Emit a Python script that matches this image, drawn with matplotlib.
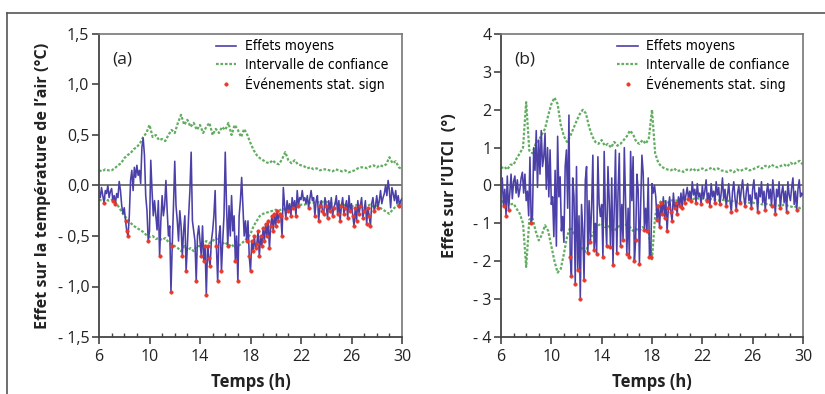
import numpy as np
import matplotlib
matplotlib.use('Agg')
import matplotlib.pyplot as plt
from matplotlib.lines import Line2D
from matplotlib.ticker import MultipleLocator, FixedLocator
from matplotlib.font_manager import FontProperties

# ---------------- data ----------------
# time grids (h)
hours_mean = np.round(np.arange(6.0, 30.001, 0.1), 2)   # 241 points
hours_ci = np.round(np.arange(6.0, 30.001, 0.25), 2)    # 97 points

# Panel (a): effect on air temperature (°C)
mean_a = [
    -0.05, -0.12, -0.02, -0.10, -0.17, -0.05, -0.08, 0.00, -0.12, -0.06,
    -0.03, -0.15, -0.10, -0.18, -0.08, -0.12, 0.04, -0.05, -0.20, -0.28,
    -0.22, -0.35, -0.45, -0.50, -0.30, 0.05, 0.15, -0.05, 0.18, 0.08,
    0.20, 0.10, 0.15, 0.02, 0.38, 0.47, 0.30, -0.10, -0.25, -0.55,
    -0.45, 0.25, -0.05, -0.30, -0.15, -0.30, -0.44, -0.15, -0.70, -0.35,
    -0.10, -0.30, -0.20, 0.05, -0.25, -0.50, -0.40, -1.05, -0.60, -0.20,
    0.24, -0.20, -0.35, -0.55, -0.25, -0.40, -0.70, -0.45, -0.30, -0.85,
    -0.60, -0.30, -0.05, 0.33, -0.35, -0.45, -0.55, -0.95, -0.50, -0.40,
    -0.55, -0.70, -0.40, -0.75, -0.60, -1.08, -0.60, -0.72, -0.80, -0.55,
    -0.45, -0.30, -0.05, -0.60, -0.95, -0.50, -0.40, -0.85, -0.55, -0.30,
    0.33, -0.20, -0.60, -0.20, -0.50, -0.10, -0.45, -0.30, -0.75, -0.50,
    -0.95, -0.30, -0.15, 0.08, -0.20, -0.50, -0.35, -0.55, -0.35, -0.70,
    -0.85, -0.55, -0.65, -0.50, -0.62, -0.58, -0.45, -0.70, -0.50, -0.60,
    -0.42, -0.55, -0.38, -0.50, -0.35, -0.62, -0.40, -0.30, -0.45, -0.28,
    -0.40, -0.25, -0.35, -0.28, -0.30, -0.50, -0.02, -0.20, -0.32, -0.15,
    -0.25, -0.18, -0.30, -0.12, -0.22, -0.15, -0.30, -0.05, -0.20, -0.12,
    -0.14, -0.05, -0.15, -0.12, -0.18, -0.10, -0.22, -0.13, -0.05, -0.15,
    -0.12, -0.30, -0.15, -0.10, -0.35, -0.20, -0.15, -0.25, -0.28, -0.12,
    -0.20, -0.32, -0.15, -0.25, -0.12, -0.30, -0.22, -0.18, -0.10, -0.28,
    -0.15, -0.35, -0.20, -0.12, -0.28, -0.22, -0.15, -0.32, -0.10, -0.25,
    -0.18, -0.30, -0.40, -0.22, -0.35, -0.15, -0.28, -0.20, -0.12, -0.32,
    -0.25, -0.15, -0.38, -0.22, -0.30, -0.40, -0.18, -0.12, -0.25, -0.20,
    -0.10, -0.22, -0.15, -0.05, -0.18, -0.12, -0.08, 0.00, -0.10, 0.05,
    -0.05, -0.22, -0.02, -0.08, -0.15, -0.05, -0.18, -0.10, -0.20, -0.15,
    -0.13,
]
upper_a = [
    0.15, 0.14, 0.16, 0.15,
    0.15, 0.17, 0.20, 0.22,
    0.27, 0.30, 0.32, 0.36,
    0.38, 0.42, 0.48, 0.52,
    0.60, 0.48, 0.50, 0.45,
    0.46, 0.44, 0.50, 0.55,
    0.52, 0.62, 0.70, 0.60,
    0.65, 0.58, 0.62, 0.55,
    0.60, 0.52, 0.58, 0.62,
    0.50, 0.56, 0.52, 0.58,
    0.55, 0.62, 0.50, 0.60,
    0.55, 0.48, 0.56, 0.50,
    0.42, 0.35, 0.30, 0.27,
    0.25, 0.23, 0.22, 0.25,
    0.22, 0.21, 0.26, 0.33,
    0.25, 0.22, 0.25, 0.21,
    0.20, 0.19, 0.17, 0.18,
    0.16, 0.17, 0.15, 0.16,
    0.16, 0.15, 0.14, 0.16,
    0.15, 0.14, 0.15, 0.13,
    0.14, 0.15, 0.17, 0.18,
    0.18, 0.17, 0.19, 0.20,
    0.18, 0.20, 0.19, 0.21,
    0.28, 0.22, 0.24, 0.18,
    0.16,
]
lower_a = [
    -0.14, -0.15, -0.13, -0.15,
    -0.14, -0.16, -0.20, -0.25,
    -0.30, -0.33, -0.37, -0.40,
    -0.42, -0.44, -0.46, -0.49,
    -0.51, -0.50, -0.53, -0.52,
    -0.54, -0.52, -0.56, -0.58,
    -0.60, -0.62, -0.65, -0.60,
    -0.64, -0.62, -0.65, -0.60,
    -0.60, -0.58, -0.55, -0.57,
    -0.55, -0.52, -0.55, -0.58,
    -0.56, -0.60, -0.58, -0.62,
    -0.60, -0.58, -0.55, -0.52,
    -0.48, -0.40, -0.35, -0.30,
    -0.28, -0.27, -0.26, -0.25,
    -0.24, -0.25, -0.23, -0.24,
    -0.23, -0.22, -0.21, -0.20,
    -0.19, -0.19, -0.18, -0.17,
    -0.17, -0.16, -0.17, -0.16,
    -0.16, -0.17, -0.18, -0.18,
    -0.19, -0.20, -0.19, -0.20,
    -0.21, -0.20, -0.19, -0.20,
    -0.21, -0.20, -0.19, -0.21,
    -0.20, -0.22, -0.24, -0.26,
    -0.28, -0.24, -0.21, -0.19,
    -0.18,
]

# Panel (b): effect on UTCI (°)
mean_b = [
    -0.30, 0.20, -0.55, -0.10, -0.80, 0.25, -0.65, -0.20, 0.30, -0.35,
    0.10, 0.25, -0.20, 0.15, -0.30, -0.10, 0.20, 0.35, -0.20, 0.30,
    -0.40, -0.15, -0.80, 0.75, -1.00, -0.80, 1.00, 0.40, 1.45, -0.05,
    1.20, 0.30, 1.45, 0.50, 0.76, 1.38, -0.10, 1.00, -0.30, 0.94,
    -0.50, -0.30, -1.35, 0.40, -1.60, 1.30, -0.30, 0.23, -1.20, -0.82,
    -1.50, 0.50, 0.94, -0.60, 1.86, -1.90, -2.40, 0.20, -0.30, -2.60,
    0.50, -2.23, -0.80, -3.00, -0.50, -1.18, -2.50, 0.14, 0.50, -1.79,
    -0.40, -1.50, -0.56, 0.80, -1.70, -1.00, -1.80, 0.76, -0.50, -0.82,
    -0.50, -1.88, 0.90, -0.82, -1.60, 0.50, -0.40, -1.62, 0.20, -2.10,
    -0.60, 0.94, -1.79, -0.20, 0.85, -1.60, -0.50, -1.44, 1.00, -0.38,
    -1.80, -0.60, -1.88, 0.90, -0.40, 0.76, -2.00, -1.44, 0.30, -0.12,
    -2.06, -0.50, 0.80, 0.32, -1.18, -0.60, -1.20, 0.20, -1.88, -1.90,
    0.05, -0.20, 0.00, -0.30, -0.90, -0.55, -1.10, -0.47, -0.75, -0.30,
    -0.85, -0.40, -1.20, -0.60, -0.30, -0.70, -0.95, -0.20, -0.60, -0.45,
    -0.75, -0.30, -0.55, -0.20, -0.60, -0.10, -0.45, -0.25, -0.05, -0.35,
    -0.15, -0.40, 0.10, -0.25, -0.10, -0.45, 0.05, -0.30, -0.20, -0.50,
    0.00, -0.35, -0.15, 0.15, -0.40, -0.20, -0.55, 0.05, -0.30, -0.15,
    -0.45, 0.10, -0.25, -0.05, -0.50, -0.20, 0.20, -0.35, -0.10, -0.55,
    -0.25, 0.05, -0.40, -0.70, -0.15, 0.10, -0.35, -0.65, -0.20, 0.00,
    -0.45, -0.10, 0.15, -0.30, -0.55, -0.15, 0.05, -0.40, -0.25, -0.60,
    -0.10, 0.15, -0.35, -0.20, -0.70, -0.05, -0.30, 0.10, -0.45, -0.15,
    -0.65, -0.20, 0.05, -0.35, -0.10, -0.55, 0.15, -0.25, -0.75, -0.10,
    -0.30, 0.10, -0.60, -0.20, 0.00, -0.45, -0.15, -0.70, 0.10, -0.25,
    -0.40, -0.05, 0.20, -0.50, -0.15, -0.65, -0.10, 0.15, -0.30, -0.20,
    -0.25,
]
upper_b = [
    0.45, 0.50, 0.42, 0.55,
    0.55, 0.72, 0.85, 1.00,
    2.20, 0.92, 0.85, 1.10,
    1.20, 1.35, 1.50, 1.85,
    2.15, 2.32, 2.15, 1.60,
    1.30, 1.15, 1.30, 1.50,
    1.70, 1.88, 2.00, 1.90,
    1.55, 1.30, 1.15, 1.10,
    1.20, 1.05, 1.10, 1.00,
    1.15, 1.05, 1.10, 1.20,
    1.30, 1.45, 1.35, 1.15,
    1.10, 1.20, 1.10, 1.25,
    2.00, 0.85, 0.60, 0.50,
    0.45, 0.42, 0.40, 0.45,
    0.38, 0.40, 0.36, 0.42,
    0.40, 0.45, 0.38, 0.42,
    0.45, 0.40, 0.43, 0.47,
    0.42, 0.45, 0.40, 0.38,
    0.36, 0.40, 0.35, 0.42,
    0.38, 0.42, 0.45, 0.40,
    0.42, 0.47, 0.50, 0.45,
    0.52, 0.48, 0.55, 0.50,
    0.48, 0.52, 0.55, 0.50,
    0.60, 0.55, 0.62, 0.65,
    0.55,
]
lower_b = [
    -0.40, -0.45, -0.38, -0.50,
    -0.48, -0.62, -0.75, -1.00,
    -2.15, -0.90, -0.85, -1.20,
    -1.45, -1.30, -1.05, -1.20,
    -1.60, -2.00, -2.30, -2.20,
    -1.80, -1.35, -1.10, -1.25,
    -1.40, -1.55, -1.70, -1.75,
    -1.50, -1.30, -1.15, -1.05,
    -1.00, -1.10, -1.05, -1.15,
    -1.20, -1.10, -1.05, -1.00,
    -1.05, -1.10, -1.20, -1.15,
    -1.20, -1.10, -1.15, -1.25,
    -1.95, -0.80, -0.50, -0.40,
    -0.42, -0.45, -0.40, -0.38,
    -0.40, -0.36, -0.38, -0.35,
    -0.34, -0.36, -0.33, -0.35,
    -0.34, -0.38, -0.35, -0.36,
    -0.38, -0.40, -0.37, -0.39,
    -0.40, -0.42, -0.40, -0.43,
    -0.42, -0.45, -0.43, -0.46,
    -0.45, -0.48, -0.46, -0.50,
    -0.48, -0.50, -0.52, -0.50,
    -0.52, -0.55, -0.50, -0.53,
    -0.55, -0.58, -0.55, -0.60,
    -0.56,
]

x_ticks = [6, 10, 14, 18, 22, 26, 30]
y_ticks_a = [-1.5, -1.0, -0.5, 0.0, 0.5, 1.0, 1.5]
y_ticklabels_a = ["- 1,5", "- 1,0", "- 0,5", "0,0", "0,5", "1,0", "1,5"]
y_ticks_b = [-4, -3, -2, -1, 0, 1, 2, 3, 4]
y_ticklabels_b = ["- 4", "- 3", "- 2", "- 1", "0", "1", "2", "3", "4"]

legend_a = ["Effets moyens", "Intervalle de confiance", "Événements stat. sign"]
legend_b = ["Effets moyens", "Intervalle de confiance", "Événements stat. sing"]

# ---------------- style ----------------
BLUE = "#4b40a8"
GREEN = "#62ad62"
RED = "#e8392b"
TICK_FONT = ["Open Sans", "DejaVu Sans"]
LABEL_FONT = ["Open Sans", "DejaVu Sans"]

W, H = 825, 394
fig = plt.figure(figsize=(W / 100, H / 100), dpi=100)
fig.patch.set_facecolor("white")

# outer frame lines (top and left)
fig.add_artist(Line2D([7 / W, 1.0], [1 - 13 / H, 1 - 13 / H], transform=fig.transFigure,
                      color="#555555", lw=1.2))
fig.add_artist(Line2D([7 / W, 7 / W], [0.0, 1 - 13 / H], transform=fig.transFigure,
                      color="#555555", lw=1.2))

leg_prop = FontProperties(family="DejaVu Sans", stretch="condensed", size=10)


def draw_panel(ax, mean, upper, lower, yticks, yticklabels, ylim, ylabel, tag, leg_labels,
               ylabel_x):
    mean = np.asarray(mean)
    upper = np.asarray(upper)
    lower = np.asarray(lower)
    low_i = np.interp(hours_mean, hours_ci, lower)
    sig = mean < low_i

    ax.axhline(0, color="#6b6b6b", lw=1.3, zorder=1)
    ax.plot(hours_ci, upper, color=GREEN, lw=1.6, ls=(0, (1.2, 0.8)), zorder=2)
    ax.plot(hours_ci, lower, color=GREEN, lw=1.6, ls=(0, (1.2, 0.8)), zorder=2)
    ax.plot(hours_mean, mean, color=BLUE, lw=1.15, zorder=3)
    ax.plot(hours_mean[sig], mean[sig], ls="none", marker="o", ms=2.5, mew=0.4,
            mfc=RED, mec=RED, zorder=4)

    ax.set_xlim(6, 30)
    ax.set_ylim(*ylim)
    ax.xaxis.set_major_locator(FixedLocator(x_ticks))
    ax.xaxis.set_minor_locator(MultipleLocator(1))
    ax.set_yticks(yticks)
    ax.set_yticklabels(yticklabels)
    ax.tick_params(axis="x", which="major", direction="out", length=5, width=1.2,
                   color="#444444", pad=3.5)
    ax.tick_params(axis="x", which="minor", direction="in", length=3, width=1.0,
                   color="#444444")
    ax.tick_params(axis="y", which="major", direction="out", length=5, width=1.2,
                   color="#444444", pad=2)
    for lab in ax.get_xticklabels() + ax.get_yticklabels():
        lab.set_fontfamily(TICK_FONT)
        lab.set_fontsize(11.5)
        lab.set_color("#222222")
    for side in ("left", "bottom"):
        ax.spines[side].set_color("#444444")
        ax.spines[side].set_linewidth(1.3)
    for side in ("top", "right"):
        ax.spines[side].set_color("#777777")
        ax.spines[side].set_linewidth(1.2)

    ax.set_ylabel(ylabel, fontsize=11.6, fontweight="bold", family=LABEL_FONT, color="#222222")
    ax.yaxis.set_label_coords(ylabel_x, 0.5)
    ax.set_xlabel("Temps (h)", fontsize=12, fontweight="bold", family=LABEL_FONT,
                  color="#222222")
    ax.xaxis.set_label_coords(0.5, -0.12)

    ax.text(0.045, 0.915, tag, transform=ax.transAxes, fontsize=12.5, family=TICK_FONT,
            color="#222222", va="center", ha="left")

    handles = [
        Line2D([], [], color=BLUE, lw=1.2),
        Line2D([], [], color=GREEN, lw=1.6, ls=(0, (1.2, 0.8))),
        Line2D([], [], ls="none", marker="o", ms=2.5, mew=0.4, mfc=RED, mec=RED),
    ]
    ax.legend(handles, leg_labels, loc="upper left", bbox_to_anchor=(0.385, 0.982),
              frameon=False, prop=leg_prop,
              handlelength=1.5, handletextpad=0.6, labelspacing=0.3, borderpad=0.0,
              borderaxespad=0.0)


ax_a = fig.add_axes([99 / W, 57 / H, 303 / W, 303 / H])
ax_b = fig.add_axes([501 / W, 57 / H, 302 / W, 303 / H])

draw_panel(ax_a, mean_a, upper_a, lower_a, y_ticks_a, y_ticklabels_a, (-1.5, 1.5),
           "Effet sur la température de l’air (°C)", "(a)", legend_a, -0.158)
draw_panel(ax_b, mean_b, upper_b, lower_b, y_ticks_b, y_ticklabels_b, (-4, 4),
           "Effet sur l’UTCI  (°)", "(b)", legend_b, -0.142)

fig.savefig("out.png", dpi=100, facecolor="white")
